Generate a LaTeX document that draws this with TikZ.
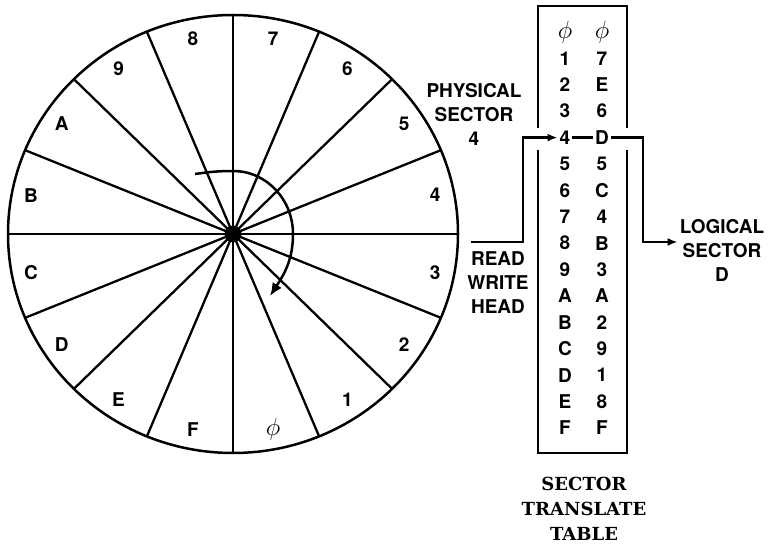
\documentclass[tikz,border=0pt]{standalone}
\usepackage{fontspec}
\setsansfont{TeX Gyre Heros}
\newfontfamily\titlefont{DejaVu Serif}
\usepackage{tikz}
\usetikzlibrary{positioning, arrows.meta, calc}
\newcommand{\zerophi}{{\fontsize{23}{23}\selectfont$\phi$}}
\tikzset{
  % disk outline and sector borders
  rim/.style={line width=2.5pt},
  spoke/.style={line width=2.3pt},
  % all lettering
  lbl/.style={font=\sffamily\bfseries\fontsize{19}{24}\selectfont, inner sep=2pt},
  note/.style={lbl, align=center},
  ttl/.style={font=\titlefont\bfseries\fontsize{18}{25}\selectfont, align=center},
  % arrows
  arr/.style={-{Latex[length=10pt, width=8pt]}, line width=2.2pt},
  turn/.style={-{Latex[length=13pt, width=11pt]}, line width=2.5pt},
}
\begin{document}
\begin{tikzpicture}[x=1pt, y=1pt]
  \useasboundingbox (0,0) rectangle (771,544);
  \coordinate (hub) at (233,310);
  % disk with 16 sectors
  \foreach \k in {0,...,15}
    \draw[spoke] (hub) -- +(\k*22.5:225pt and 219pt);
  \draw[rim] (hub) ellipse[x radius=225pt, y radius=219pt];
  \fill (hub) circle[radius=8.5pt];
  \foreach \s [count=\k from 0] in {7,6,5,4,3,2,1,\zerophi,F,E,D,C,B,A,9,8}
    \node[lbl] (s\k) at ($(hub)+(78.75-22.5*\k:206pt and 199pt)$) {\s};
  % direction of rotation
  \path (hub) +(-38,60) coordinate (t0) +(0,63) coordinate (t1)
              +(60,0) coordinate (t2) +(37,-62) coordinate (t3);
  \draw[turn] (t0) to[out=8, in=180] (t1) to[out=0, in=90] (t2)
    to[out=-90, in=57] (t3);
  % translate table
  \draw[rim] (538,416) -- (538,538) -- (627,538) -- (627,416);
  \draw[rim] (538,394) -- (538,91) -- (627,91) -- (627,394);
  \foreach \a/\b [count=\k from 0] in {\zerophi/\zerophi,1/7,2/E,3/6,4/D,5/5,6/C,7/4,
      8/B,9/3,A/A,B/2,C/9,D/1,E/8,F/F} {
    \node[lbl] (l\k) at (565,512-26.4*\k) {\a};
    \node[lbl] (r\k) at (602,512-26.4*\k) {\b};
  }
  \draw[line width=2.2pt] (l4) -- (r4);
  % labels
  \node[note] (phys) at (474,430) {PHYSICAL\\SECTOR\\4};
  \node[note] (head) at (498,261) {READ\\WRITE\\HEAD};
  \node[note] (logic) at (722,294) {LOGICAL\\SECTOR\\D};
  \node[ttl] (name) at (584,35) {SECTOR\\TRANSLATE\\TABLE};
  % head to table to logical sector
  \coordinate (hd) at (471,302);
  \coordinate (hb) at (523,302);
  \coordinate (lb) at (643,302);
  \draw[arr] (hd) -- (hb) |- (l4.west);
  \draw[arr] (r4.east) -| (lb) -- (lb -| logic.west);
\end{tikzpicture}
\end{document}
